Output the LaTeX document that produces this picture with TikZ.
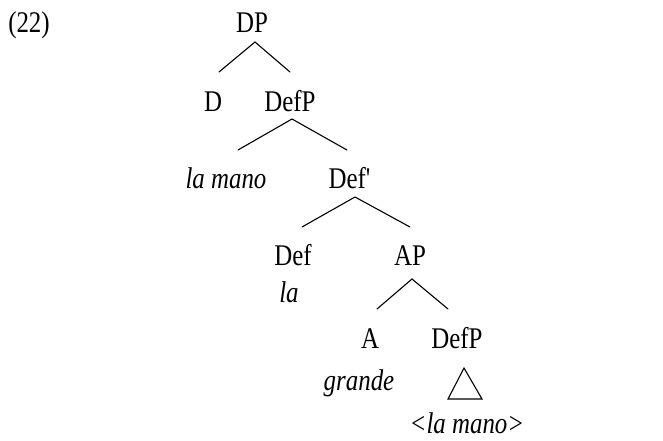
\documentclass[tikz,border=0pt]{standalone}
\usepackage{fontspec}
\setmainfont[FakeStretch=0.83]{Liberation Serif}
\begin{document}
\begin{tikzpicture}[x=1pt,y=1pt,
  lbl/.style={anchor=base,inner sep=0pt,font=\fontsize{30}{32}\selectfont},
  wrd/.style={lbl,font=\fontsize{30}{32}\selectfont\itshape},
  branch/.style={line width=1.1pt,line cap=round}]
\useasboundingbox (0,0) rectangle (663,440);
% labels
\node[lbl] (ex)    at (29,407)  {(22)};
\node[lbl] (dp)    at (252,407) {DP};
\node[lbl] (d)     at (213,328) {D};
\node[lbl] (defp)  at (290,328) {DefP};
\node[wrd] (spec)  at (226,252) {la mano};
\node[lbl] (defb)  at (350,252) {Def\textquotesingle};
\node[lbl] (def)   at (293,175) {Def};
\node[wrd] (la)    at (289,138) {la};
\node[lbl] (ap)    at (410,175) {AP};
\node[lbl] (a)     at (370,92)  {A};
\node[lbl] (defpb) at (457,92)  {DefP};
\node[wrd] (gr)    at (359,50)  {grande};
\node[wrd] (tr)    at (467,7)   {<la mano>};
% branch points
\coordinate (dpT) at (255,398);  \coordinate (dpL) at (219,368);  \coordinate (dpR) at (290,368);
\coordinate (dfT) at (292,321);  \coordinate (dfL) at (238,290);  \coordinate (dfR) at (347,290);
\coordinate (dbT) at (355,243);  \coordinate (dbL) at (302,213);  \coordinate (dbR) at (410,213);
\coordinate (apT) at (412,161);  \coordinate (apL) at (377,131);  \coordinate (apR) at (448,131);
\coordinate (trT) at (464,72);   \coordinate (trL) at (448,41);   \coordinate (trR) at (482,41);
% branches
\draw[branch] (dpL) -- (dpT) -- (dpR);
\draw[branch] (dfL) -- (dfT) -- (dfR);
\draw[branch] (dbL) -- (dbT) -- (dbR);
\draw[branch] (apL) -- (apT) -- (apR);
\draw[branch,line join=miter] (trL) -- (trT) -- (trR) -- cycle;
\end{tikzpicture}
\end{document}
